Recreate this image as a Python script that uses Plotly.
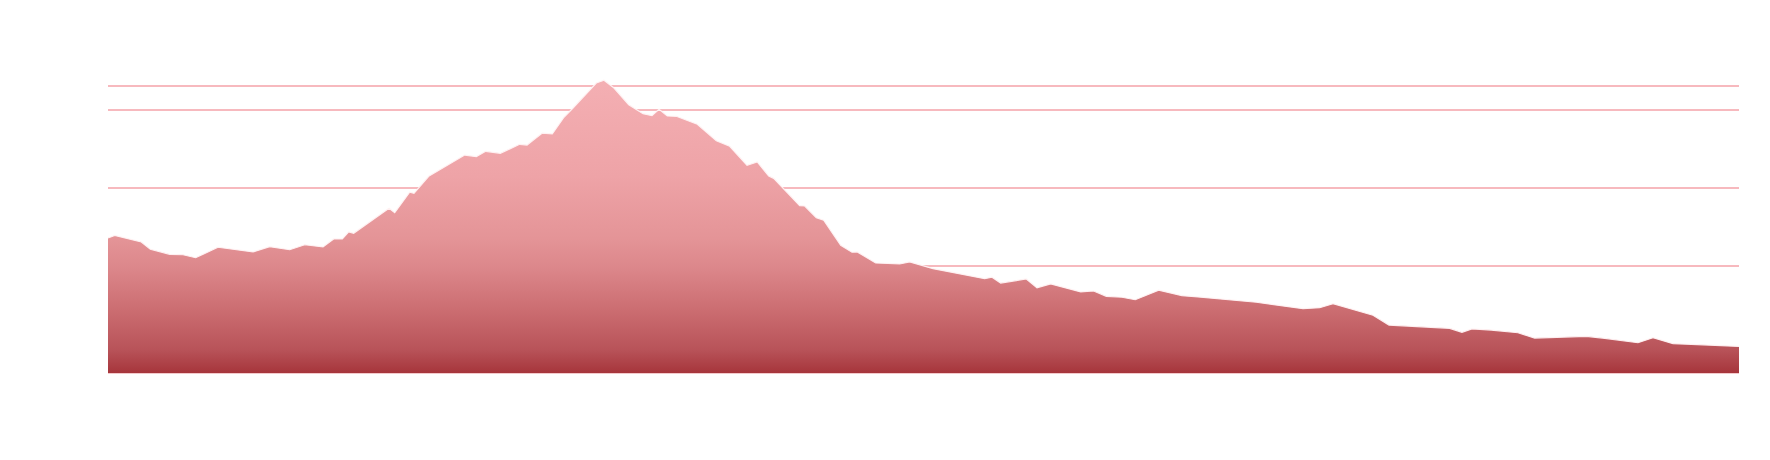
import plotly.graph_objects as go

# Distance along the route (km) and elevation (m), read from the profile
distance_km = [0, 0.84, 4.16, 5.29, 7.71, 9.38, 10.96, 13.75, 18.13, 20.21,
               22.71, 24.59, 26.88, 28.21, 29.29, 30.09, 30.71, 35.13, 35.84, 37.71,
               38.25, 40.09, 44.59, 46.04, 47.21, 49.04, 51.46, 52.38, 54.29, 55.54,
               57.0, 58.13, 61.04, 62.0, 63.25, 65.09, 66.88, 68.0, 68.88, 69.91,
               71.04, 73.66, 76.04, 77.71, 79.88, 81.16, 82.59, 83.21, 86.46, 87.09,
               88.54, 89.46, 91.59, 93.0, 93.66, 95.96, 98.96, 100.21, 103.13, 109.59,
               110.5, 111.59, 114.79, 116.13, 117.84, 121.59, 123.21, 124.79, 126.75, 128.41,
               131.34, 134.25, 136.25, 143.54, 149.38, 151.46, 153.13, 155.0, 158.13, 160.13,
               167.71, 169.25, 170.5, 172.91, 176.25, 178.34, 182.5, 184.79, 187.09, 191.25,
               193.13, 195.63, 197.91, 203.88]
elevation_m = [1179, 1196, 1154, 1107, 1075, 1072, 1053, 1120, 1090, 1124,
               1104, 1136, 1122, 1173, 1173, 1218, 1209, 1369, 1341, 1472,
               1465, 1574, 1710, 1700, 1734, 1721, 1779, 1774, 1851, 1845,
               1952, 2011, 2171, 2189, 2139, 2032, 1975, 1962, 2003, 1960,
               1958, 1907, 1802, 1766, 1645, 1666, 1576, 1561, 1386, 1384,
               1309, 1293, 1133, 1088, 1090, 1019, 1013, 1026, 983, 919,
               928, 891, 917, 861, 885, 834, 840, 806, 800, 784,
               845, 810, 802, 768, 727, 733, 759, 731, 685, 622,
               601, 576, 597, 590, 573, 539, 544, 550, 537, 509,
               541, 503, 499, 485]

# Reference elevation lines
ref_lines = [1000, 1500, 2000, 2150]

fig = go.Figure()
fig.add_trace(go.Scatter(
    x=distance_km, y=elevation_m,
    mode="lines",
    line=dict(color="rgba(255,242,243,0.95)", width=1.2),
    fill="tozeroy",
    fillgradient=dict(
        type="vertical",
        start=315, stop=2189,
        colorscale=[
            [0.0, "#a6353b"],
            [0.08, "#b85359"],
            [0.22, "#cc6e72"],
            [0.36, "#dc878b"],
            [0.46, "#e49497"],
            [0.67, "#eea3a7"],
            [1.0, "#f4afb3"],
        ],
    ),
    hoverinfo="skip",
    showlegend=False,
))

fig.update_layout(
    width=1770, height=460,
    margin=dict(l=100, r=39, t=40, b=95),
    paper_bgcolor="white",
    plot_bgcolor="white",
    showlegend=False,
    xaxis=dict(
        range=[0, 203.88],
        showgrid=False, zeroline=False,
        showticklabels=False, ticks="",
        showline=True, linecolor="#f3c9cb", linewidth=1,
    ),
    yaxis=dict(
        range=[315.2, 2395.2],
        tickvals=ref_lines,
        showgrid=True, gridcolor="#f7b9be", gridwidth=1.5,
        zeroline=False, showticklabels=False, ticks="",
        showline=False,
    ),
)

fig.write_html("out.html")
